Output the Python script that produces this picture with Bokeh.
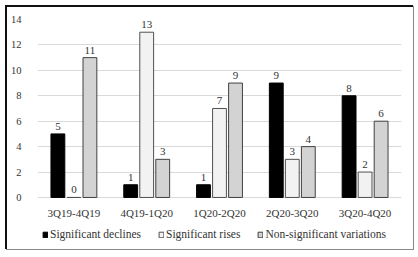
from bokeh.plotting import figure
from bokeh.models import ColumnDataSource, FactorRange, Range1d, FixedTicker, Legend, LegendItem
from bokeh.transform import dodge
from bokeh.core.properties import value
from bokeh.embed import file_html
from bokeh.resources import INLINE

categories = ["3Q19-4Q19", "4Q19-1Q20", "1Q20-2Q20", "2Q20-3Q20", "3Q20-4Q20"]
declines = [5, 1, 1, 9, 8]
rises = [0, 13, 7, 3, 2]
nonsig = [11, 3, 9, 4, 6]
series_names = ["Significant declines", "Significant rises", "Non-significant variations"]
y_ticks = [0, 2, 4, 6, 8, 10, 12, 14]

src = ColumnDataSource(dict(
    cat=categories, d=declines, r=rises, n=nonsig,
    dl=[str(v) for v in declines], rl=[str(v) for v in rises], nl=[str(v) for v in nonsig],
))

FONT = "Liberation Serif"

p = figure(x_range=FactorRange(*categories), y_range=Range1d(-3.7, 14),
           frame_width=364, frame_height=225, output_backend="svg", toolbar_location=None,
           min_border_left=29, min_border_right=12, min_border_top=12, min_border_bottom=5)
p.styles = {"margin-left": "7px", "margin-top": "7px",
            "box-shadow": "-1px -1px 0 1px #111, 0 0 0 1px #888"}
p.outline_line_color = None
p.background_fill_color = "white"
p.border_fill_color = "white"

p.xgrid.grid_line_color = None
p.ygrid.grid_line_color = "#d9d9d9"
p.ygrid.grid_line_width = 1
p.yaxis.ticker = FixedTicker(ticks=y_ticks)
p.xaxis.fixed_location = 0

for ax in (p.xaxis, p.yaxis):
    ax.axis_line_color = None
    ax.major_tick_line_color = None
    ax.minor_tick_line_color = None
    ax.major_label_text_font = FONT
    ax.major_label_text_color = "#333333"
p.yaxis.major_label_text_font_size = "10.5px"
p.xaxis.major_label_text_font_size = "11px"
p.yaxis.major_label_standoff = 10
p.xaxis.major_label_standoff = 4

off = 0.22
w = 0.19
styles = [
    ("d", "dl", -off, "#000000", "#000000"),
    ("r", "rl", 0.0, "#f2f2f2", "#505050"),
    ("n", "nl", off, "#d3d3d3", "#404040"),
]
renderers = []
for col, lab, o, fill, line in styles:
    xr = dodge("cat", o, range=p.x_range)
    r = p.vbar(x=xr, top=col, width=w, source=src, fill_color=fill, line_color=line, line_width=1)
    renderers.append(r)
    p.text(x=xr, y=col, text=lab, source=src, text_align="center", text_baseline="bottom",
           y_offset=-4, text_font=value(FONT), text_font_size="11px", text_color="#333333")

legend = Legend(items=[LegendItem(label=n, renderers=[r]) for n, r in zip(series_names, renderers)],
                orientation="horizontal", location=(1, 0))
legend.label_text_font = FONT
legend.label_text_font_size = "11.5px"
legend.label_text_color = "#333333"
legend.glyph_width = 6
legend.glyph_height = 7
legend.label_height = 12
legend.label_standoff = 2
legend.spacing = 17
legend.padding = 4
legend.margin = 0
legend.border_line_alpha = 0
legend.background_fill_alpha = 0
p.add_layout(legend, "center")

open("out.html", "w").write(file_html(p, INLINE))
